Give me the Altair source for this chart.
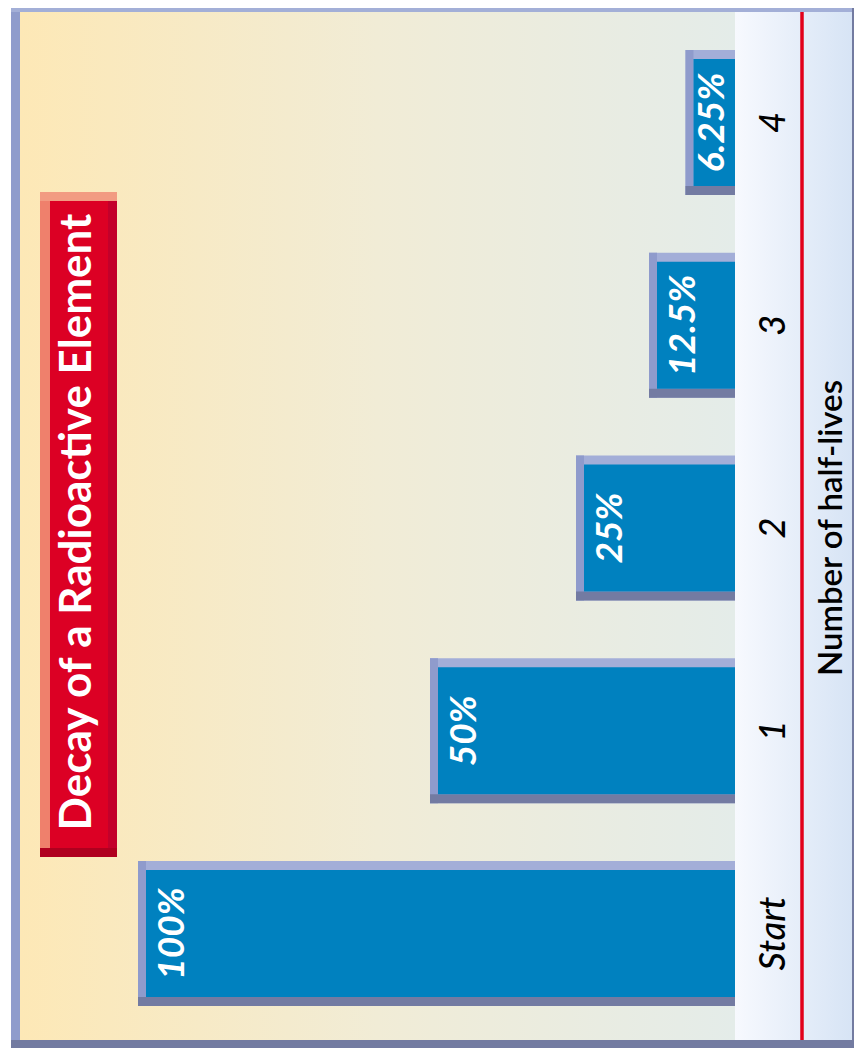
import altair as alt
import pandas as pd

# ---- data ----
categories = ["Start", "1", "2", "3", "4"]
half_lives = [0, 1, 2, 3, 4]
percent_left = [100, 50, 25, 12.5, 6.25]
value_labels = ["100%", "50%", "25%", "12.5%", "6.25%"]
title_text = "Decay of a Radioactive Element"
axis_title = "Number of half-lives"

df = pd.DataFrame({"cat": categories, "n": half_lives,
                   "pct": percent_left, "label": value_labels})
one = pd.DataFrame({"k": [0]})

W, H = 846, 1040
X0 = 727  # bar baseline (view px)
FONT = "Lato"

xs = alt.Scale(domain=[0, 100], range=[714, 130], nice=False, zero=False)
ys = alt.Scale(domain=[0, 4], range=[925.5, 114.5], nice=False, zero=False)
HALF = 72.5 / 202.75

base = alt.Chart(df).transform_calculate(
    lo=f"datum.n - {HALF}", hi=f"datum.n + {HALF}",
    lx="max(datum.pct - 6, datum.pct / 4)")


def grad(c0, c1, mid=None):
    stops = [alt.GradientStop(color=c0, offset=0)]
    if mid:
        stops.append(alt.GradientStop(color=mid, offset=0.5))
    stops.append(alt.GradientStop(color=c1, offset=1))
    return alt.LinearGradient(gradient="linear", stops=stops, x1=0, x2=1, y1=0, y2=0)


def box(color, x1, x2, y1, y2):
    return alt.Chart(one).mark_rect(color=color).encode(
        x=alt.value(x1), x2=alt.value(x2), y=alt.value(y1), y2=alt.value(y2))


# backgrounds & frame
bg_main = box(grad("#fde8b6", "#e4ece9", "#f1ecd6"), 12, X0, 0, 1032)
bg_strip = box(grad("#f7f9fe", "#d7e4f5"), X0, 844, 0, 1032)
red_line = alt.Chart(one).mark_rule(color="#e2001a", strokeWidth=3.5).encode(
    x=alt.value(794), y=alt.value(0), y2=alt.value(1032))
frame_l = box("#8f9ccc", 3, 12, 0, 1040)
frame_t = box("#a3afd7", 3, 846, 0, 4)
frame_b = box("#737ba1", 3, 846, 1032, 1040)
frame_r = box("#737ba1", 844, 846, 0, 1040)

# title box (bevelled)
t_outer = box("#f29b82", 32, 109, 184, 849)
t_left = box("#ef806c", 32, 42, 193, 840)
t_right = box("#c3002b", 100, 109, 193, 840)
t_bottom = box("#b0001f", 32, 109, 840, 849)
t_inner = box("#dc0024", 42, 100, 193, 840)
t_text = alt.Chart(one).mark_text(
    text=title_text, color="white", font=FONT, fontWeight="bold", fontSize=44,
    angle=270, align="center", baseline="middle").encode(
    x=alt.value(70), y=alt.value(514))

# bars (bevelled)
b_outer = base.mark_rect(color="#a3aed8").encode(
    x=alt.X("pct:Q", scale=xs, axis=None), x2=alt.value(X0),
    y=alt.Y("lo:Q", scale=ys, axis=None), y2="hi:Q")
b_left = base.mark_rect(color="#8f9bcc", x2Offset=8).encode(
    x=alt.X("pct:Q", scale=xs, axis=None), x2="pct:Q",
    y=alt.Y("lo:Q", scale=ys, axis=None), y2="hi:Q")
b_bottom = base.mark_rect(color="#737ba2", y2Offset=-9).encode(
    x=alt.X("pct:Q", scale=xs, axis=None), x2=alt.value(X0),
    y=alt.Y("lo:Q", scale=ys, axis=None), y2="lo:Q")
b_inner = base.mark_rect(color="#0081bf", xOffset=8, yOffset=-9, y2Offset=9).encode(
    x=alt.X("pct:Q", scale=xs, axis=None), x2=alt.value(X0),
    y=alt.Y("lo:Q", scale=ys, axis=None), y2="hi:Q")
b_text = base.mark_text(
    color="white", font=FONT, fontWeight="bold", fontStyle="italic", fontSize=37,
    angle=270, align="center", baseline="middle").encode(
    x=alt.X("lx:Q", scale=xs, axis=None), y=alt.Y("n:Q", scale=ys, axis=None),
    text="label:N")

cat_text = base.mark_text(
    color="black", font=FONT, fontStyle="italic", fontWeight=500, fontSize=36,
    angle=270, align="center", baseline="middle").encode(
    x=alt.value(766), y=alt.Y("n:Q", scale=ys, axis=None), text="cat:N")

ax_title = alt.Chart(one).mark_text(
    text=axis_title, color="black", font=FONT, fontWeight=600, fontSize=33,
    angle=270, align="center", baseline="middle").encode(
    x=alt.value(824), y=alt.value(520))

chart = alt.layer(
    bg_main, bg_strip, red_line, frame_l, frame_t, frame_b, frame_r,
    t_outer, t_left, t_right, t_bottom, t_inner, t_text,
    b_outer, b_left, b_bottom, b_inner, b_text, cat_text, ax_title
).properties(
    width=W, height=H, padding=0, autosize=alt.AutoSizeParams(type="none")
).configure_view(stroke=None)

chart.save("out.html", embed_options={"renderer": "svg", "actions": False})
